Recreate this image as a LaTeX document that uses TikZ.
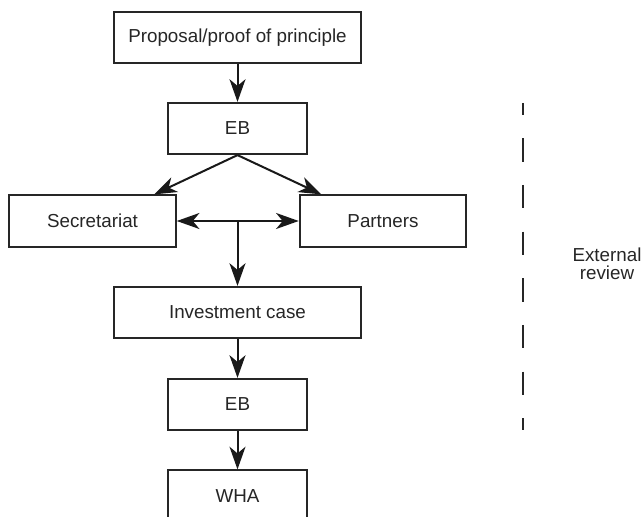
\documentclass[tikz,border=0pt]{standalone}
\usepackage{fontspec}
\setmainfont{Liberation Sans}
\usetikzlibrary{positioning, arrows.meta}

\begin{document}
\begin{tikzpicture}[
    x=0.75pt, y=-0.75pt,
    % Style definitions
    box/.style={
        rectangle, draw=black!85, line width=1.4pt, fill=white,
        inner sep=0pt, minimum height=38.5pt, text=black!85,
        font=\fontsize{14.1}{13.7}\selectfont, align=center
    },
    widebox/.style={box, minimum width=185pt},
    sidebox/.style={box, minimum width=125pt},
    smallbox/.style={box, minimum width=104pt},
    flow/.style={
        -{Stealth[length=17pt, width=12pt, inset=5pt]},
        black!90, line width=1.5pt
    },
    reviewline/.style={
        black!85, line width=1.5pt,
        dash pattern=on 17.5pt off 17.5pt, dash phase=8.5pt
    },
    sidelabel/.style={
        font=\fontsize{14.1}{13.7}\selectfont, align=center, text=black!85
    },
]

\useasboundingbox (0,0) rectangle (644,517);

% Column positions
\def\colMid{237.5}
\def\colLeft{92.5}
\def\colRight{383}
\def\colReview{522.5}

% Row positions (top to bottom)
\def\rowProposal{37.5}
\def\rowBoard{128.5}
\def\rowActors{221}
\def\rowCase{312.5}
\def\rowBoardTwo{404.5}
\def\rowAssembly{496}

% === Main chain of boxes ===
\node[widebox] (proposal) at (\colMid, \rowProposal) {Proposal/proof of principle};
\node[smallbox] (eb1) at (\colMid, \rowBoard) {EB};
\node[sidebox] (secretariat) at (\colLeft, \rowActors) {Secretariat};
\node[sidebox] (partners) at (\colRight, \rowActors) {Partners};
\node[widebox] (invcase) at (\colMid, \rowCase) {Investment case};
\node[smallbox] (eb2) at (\colMid, \rowBoardTwo) {EB};
\node[smallbox] (wha) at (\colMid, \rowAssembly) {WHA};

% === Connectors ===
\draw[flow] (proposal) -- (eb1);
\draw[flow] (eb1.south) -- ([xshift=-17pt]secretariat.north east);
\draw[flow] (eb1.south) -- ([xshift=17pt]partners.north west);
\draw[flow, {Stealth[length=17pt, width=12pt, inset=5pt]}-{Stealth[length=17pt, width=12pt, inset=5pt]}]
    (secretariat) -- (partners);
\coordinate (junction) at (secretariat.east -| invcase.north);
\draw[flow] (junction) -- (invcase.north);
\draw[flow] (invcase) -- (eb2);
\draw[flow] (eb2) -- (wha);

% === External review marker ===
\coordinate (reviewtop) at (\colReview, 103);
\coordinate (reviewbot) at (\colReview, 430);
\draw[reviewline] (reviewtop) -- (reviewbot);
\node[sidelabel] (review) at (607, 264) {External\\review};

\end{tikzpicture}
\end{document}
